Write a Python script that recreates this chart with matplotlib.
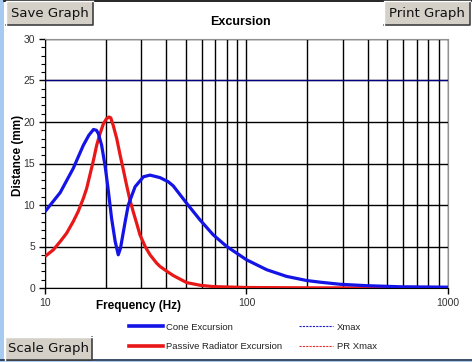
import matplotlib
matplotlib.use("Agg")
import matplotlib.pyplot as plt
from matplotlib.lines import Line2D
from matplotlib.patches import Rectangle
from matplotlib.ticker import FixedLocator, NullFormatter

plt.rcParams['font.family'] = ['Liberation Sans', 'DejaVu Sans']

# values
freq_cone = [10, 11.9, 13.8, 15.5, 16.5, 17.4, 18.0, 18.4, 19.1, 19.9, 20.6, 21.4,
             22.3, 23.1, 23.7, 25.0, 25.9, 28.0, 30.8, 33.2, 37.2, 40.9, 43.3,
             50.5, 58.8, 68.4, 79.8, 100, 126, 158, 199, 232, 291, 395, 578, 1000]
cone_mm = [9.2, 11.5, 14.4, 17.2, 18.4, 19.1, 19.0, 18.6, 17.2, 14.6, 11.8, 8.4,
           5.6, 4.0, 4.8, 8.0, 10.0, 12.2, 13.4, 13.6, 13.3, 12.8, 12.3,
           10.2, 8.2, 6.4, 5.0, 3.4, 2.2, 1.4, 0.9, 0.7, 0.45, 0.28, 0.15, 0.1]
freq_pr = [10, 11.0, 11.9, 12.8, 13.8, 14.6, 15.5, 16.1, 16.7, 17.4, 18.05, 18.75,
           19.5, 20.2, 20.8, 21.2, 21.8, 22.7, 23.6, 24.5, 25.4, 26.4, 27.4, 28.5,
           29.6, 31.4, 33.2, 35.8, 37.2, 40.9, 43.3, 50.5, 58.8, 68.4, 100, 200, 1000]
pr_mm = [3.8, 4.6, 5.6, 6.6, 8.0, 9.2, 10.8, 12.0, 13.6, 15.4, 17.2, 18.6,
         19.8, 20.4, 20.6, 20.5, 19.6, 18.0, 16.0, 14.2, 12.4, 10.6, 9.2, 7.8,
         6.4, 5.0, 4.0, 3.0, 2.6, 1.9, 1.5, 0.65, 0.33, 0.17, 0.06, 0.02, 0.0]
xmax_freq = [10, 1000]
xmax_mm = [25, 25]
pr_xmax_mm = [25, 25]

W, H = 472, 362
fig = plt.figure(figsize=(W / 100, H / 100), dpi=100)
fig.patch.set_facecolor('white')


def px(x, y):
    return x / W, 1 - y / H


# window frame bits
fig.add_artist(Rectangle(px(0, 362), 4 / W, 1, transform=fig.transFigure,
                         facecolor='#a6caf0', edgecolor='none'))
fig.add_artist(Line2D([4 / W, 1], [1 - 0.5 / H] * 2, transform=fig.transFigure,
                      color='black', lw=1.2))
fig.add_artist(Rectangle((0, 0), 1, 1.5 / H, transform=fig.transFigure,
                         facecolor='#a6caf0', edgecolor='none'))
fig.add_artist(Line2D([0, 1], [1.8 / H] * 2, transform=fig.transFigure,
                      color='#1c2c4c', lw=1.2))


def button(x0, y0, x1, y1, label):
    fig.add_artist(Rectangle(px(x0, y1), (x1 - x0) / W, (y1 - y0) / H,
                             transform=fig.transFigure, facecolor='#d4d0c8',
                             edgecolor='none', zorder=5))
    fig.add_artist(Line2D([x0 / W, x1 / W, x1 / W], [1 - y1 / H, 1 - y1 / H, 1 - y0 / H],
                          transform=fig.transFigure, color='#404040', lw=1.2, zorder=6))
    fig.add_artist(Line2D([x0 / W, x0 / W, x1 / W], [1 - y1 / H, 1 - y0 / H, 1 - y0 / H],
                          transform=fig.transFigure, color='white', lw=1, zorder=6))
    fig.text((x0 + x1) / 2 / W, 1 - (y0 + y1) / 2 / H, label, ha='center', va='center',
             fontsize=9.5, family='DejaVu Sans', color='#111111', zorder=7)


button(6, 1, 93, 25, 'Save Graph')
button(384, 1, 470, 25, 'Print Graph')
button(5, 337, 92, 360, 'Scale Graph')

ax = fig.add_axes([45 / W, 1 - 288 / H, 403 / W, 249 / H])
ax.set_xscale('log')
ax.set_xlim(10, 1000)
ax.set_ylim(0, 30)

ax.plot(xmax_freq, pr_xmax_mm, color='#000080', lw=0.6, zorder=2)
ax.plot(xmax_freq, xmax_mm, color='#000080', lw=0.9, zorder=3)
ax.plot(freq_pr, pr_mm, color='#e81818', lw=2.3, zorder=4, solid_capstyle='butt')
ax.plot(freq_cone, cone_mm, color='#1414e6', lw=2.3, zorder=5, solid_capstyle='butt')

ax.xaxis.set_major_locator(FixedLocator([10, 100, 1000]))
ax.xaxis.set_minor_locator(FixedLocator([20, 30, 40, 50, 60, 70, 80, 90,
                                         200, 300, 400, 500, 600, 700, 800, 900]))
ax.xaxis.set_major_formatter(plt.FixedFormatter(['10', '100', '1000']))
ax.xaxis.set_minor_formatter(NullFormatter())
ax.set_yticks([0, 5, 10, 15, 20, 25, 30])
ax.set_yticks(range(0, 31), minor=True)
ax.grid(which='both', axis='x', color='black', lw=1)
ax.grid(which='major', axis='y', color='black', lw=1)
ax.set_axisbelow(True)

ax.tick_params(axis='both', which='major', labelsize=7.5, labelcolor='#333333',
               direction='out', length=4, width=1)
ax.tick_params(axis='y', which='minor', direction='out', length=3, width=0.8)
ax.tick_params(axis='x', which='minor', length=0)
ax.tick_params(axis='y', pad=3)
ax.tick_params(axis='x', pad=3)
for s in ('top', 'right'):
    ax.spines[s].set_color('#909090')
for s in ('left', 'bottom'):
    ax.spines[s].set_color('black')

ax.text(0.484, 1.068, 'Excursion', transform=ax.transAxes, ha='center', va='center',
        fontsize=9, fontweight='bold')
ax.text((139 - 45) / 403, (288 - 306) / 249, 'Frequency (Hz)', transform=ax.transAxes,
        ha='center', va='center', fontsize=8.5, fontweight='bold')
ax.text(-0.067, 0.534, 'Distance (mm)', transform=ax.transAxes, rotation=90,
        ha='center', va='center', fontsize=8.5, fontweight='bold')

handles = [Line2D([], [], color='#1414e6', lw=2.6),
           Line2D([], [], color='#e81818', lw=2.6),
           Line2D([], [], color='#2020c0', lw=0.8, ls=(0, (2, 1))),
           Line2D([], [], color='#e03030', lw=0.8, ls=(0, (2, 1)))]
labels = ['Cone Excursion', 'Passive Radiator Excursion', 'Xmax', 'PR Xmax']
leg = fig.legend(handles, labels, loc='upper left', bbox_to_anchor=px(120, 314),
                 ncol=2, frameon=False, fontsize=6.8, handlelength=3.6,
                 handletextpad=0.4, labelspacing=1.15, columnspacing=1.75)
for t in leg.get_texts():
    t.set_color('#222222')

fig.savefig('out.png', dpi=100)
